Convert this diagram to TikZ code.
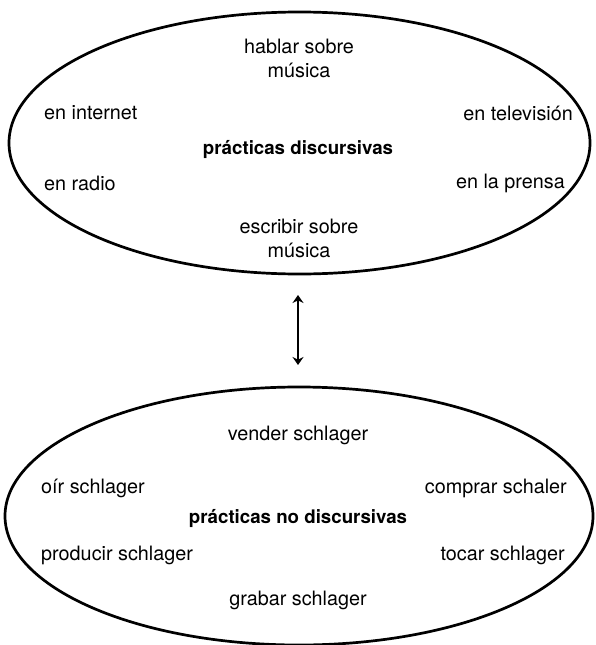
\documentclass[tikz,border=0pt]{standalone}
\usepackage{fontspec}
\setmainfont{TeX Gyre Heros}
\usetikzlibrary{arrows.meta}
\begin{document}
\begin{tikzpicture}[x=1pt,y=-1pt,
  lbl/.style={font=\fontsize{19.8}{24}\selectfont, inner sep=0pt, align=center},
  ttl/.style={font=\fontsize{18.7}{24}\selectfont\bfseries, inner sep=0pt},
  oval/.style={draw=black, line width=2.7pt},
  dblarrow/.style={line width=2.4pt, {Stealth[length=8pt,width=11pt]}-{Stealth[length=8pt,width=11pt]}}]
\useasboundingbox (0,0) rectangle (595,645);
\begin{scope}
\clip (0,0) rectangle (595,645);
% top ellipse
\draw[oval] (299.5,143) ellipse [x radius=290.5, y radius=131];
% bottom ellipse
\draw[oval] (299,516) ellipse [x radius=294, y radius=129];
\end{scope}
% top labels
\node[lbl] (hablar) at (299,58) {hablar sobre\\música};
\node[lbl, anchor=west] (internet) at (44,113) {en internet};
\node[lbl, anchor=east] (tele) at (573,113) {en televisión};
\node[ttl] (pd) at (298,150) {prácticas discursivas};
\node[lbl, anchor=west] (radio) at (44,183) {en radio};
\node[lbl, anchor=east] (prensa) at (565,183) {en la prensa};
\node[lbl] (escribir) at (299,238) {escribir sobre\\música};
% arrow
\coordinate (atop) at (298,295);
\coordinate (abot) at (298,365);
\draw[dblarrow] (atop) -- (abot);
% bottom labels
\node[lbl] (vender) at (298,435) {vender schlager};
\node[lbl, anchor=west] (oir) at (41,488) {oír schlager};
\node[lbl, anchor=east] (comprar) at (567,488) {comprar schaler};
\node[ttl] (pnd) at (298,519) {prácticas no discursivas};
\node[lbl, anchor=west] (producir) at (41,555) {producir schlager};
\node[lbl, anchor=east] (tocar) at (565,555) {tocar schlager};
\node[lbl] (grabar) at (298,600) {grabar schlager};
\end{tikzpicture}
\end{document}
